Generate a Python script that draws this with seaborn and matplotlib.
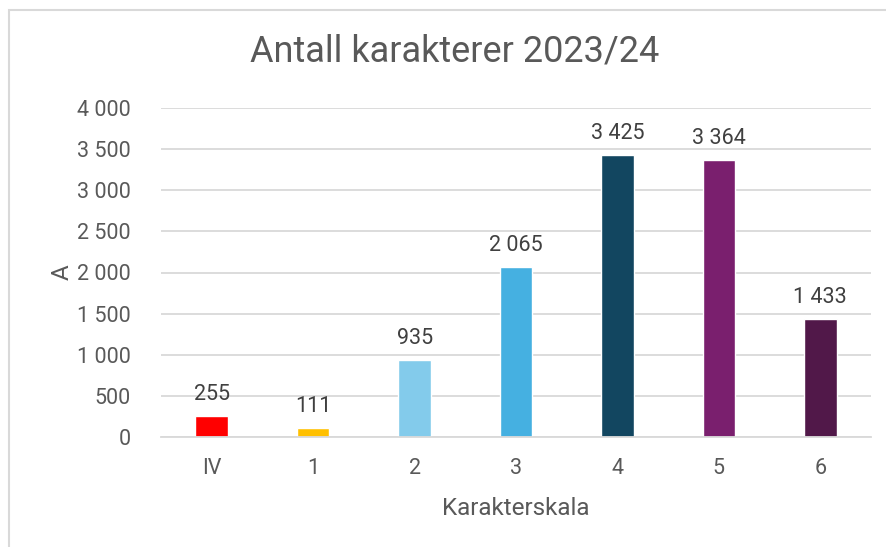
import matplotlib
matplotlib.use("Agg")
import matplotlib.pyplot as plt
import matplotlib.patches as mpatches
import seaborn as sns
import pandas as pd

categories = ["IV", "1", "2", "3", "4", "5", "6"]
values = [255, 111, 935, 2065, 3425, 3364, 1433]
colors = ["#FF0000", "#FFC000", "#83CBEB", "#45B0E1", "#124660", "#7A1F6E", "#511849"]
yticks = [0, 500, 1000, 1500, 2000, 2500, 3000, 3500, 4000]

title = "Antall karakterer 2023/24"
xlabel = "Karakterskala"
ylabel = "A"

sns.set_theme(style="white")
plt.rcParams["font.family"] = ["Roboto", "DejaVu Sans"]

W, H = 887, 547
fig = plt.figure(figsize=(W / 100, H / 100), dpi=100)
ax = fig.add_axes([161 / W, 110 / H, (871 - 161) / W, (437 - 108) / H])

df = pd.DataFrame({"cat": categories, "val": values})
sns.barplot(data=df, x="cat", y="val", hue="cat", palette=colors, width=0.32,
            legend=False, ax=ax, saturation=1, order=categories)

def fmt(v):
    return f"{v:,}".replace(",", " ")

txt = "#595959"
ax.set_ylim(0, 4000)
ax.set_xlim(-0.5, len(categories) - 0.5)
ax.set_yticks(yticks)
ax.set_yticklabels([fmt(v) for v in yticks], color=txt, fontsize=15.5)
ax.tick_params(axis="x", colors=txt, labelsize=15.5, length=0, pad=15)
ax.tick_params(axis="y", colors=txt, labelsize=15.5, length=0, pad=22)
ax.grid(axis="y", color="#D9D9D9", linewidth=1.3)
ax.set_axisbelow(True)
for s in ["top", "right", "left"]:
    ax.spines[s].set_visible(False)
ax.spines["bottom"].set_color("#D9D9D9")
ax.spines["bottom"].set_linewidth(1.3)

for i, v in enumerate(values):
    ax.annotate(fmt(v), (i, v), xytext=(0, 8), textcoords="offset points",
                ha="center", va="bottom", fontsize=15.5, color="#404040")

ax.set_xlabel(xlabel, fontsize=17.5, color=txt, labelpad=13)
ax.set_ylabel(ylabel, fontsize=17.5, color=txt, labelpad=2)
fig.text(455 / W, 1 - 52 / H, title, ha="center", va="center", fontsize=26, color=txt)

fig.patches.append(mpatches.Rectangle((9 / W, -0.1), 1.2, 1 - 10 / H + 0.1,
                                      transform=fig.transFigure, fill=False,
                                      edgecolor="#D9D9D9", linewidth=1.5))

fig.savefig("out.png", dpi=100, facecolor="white")
